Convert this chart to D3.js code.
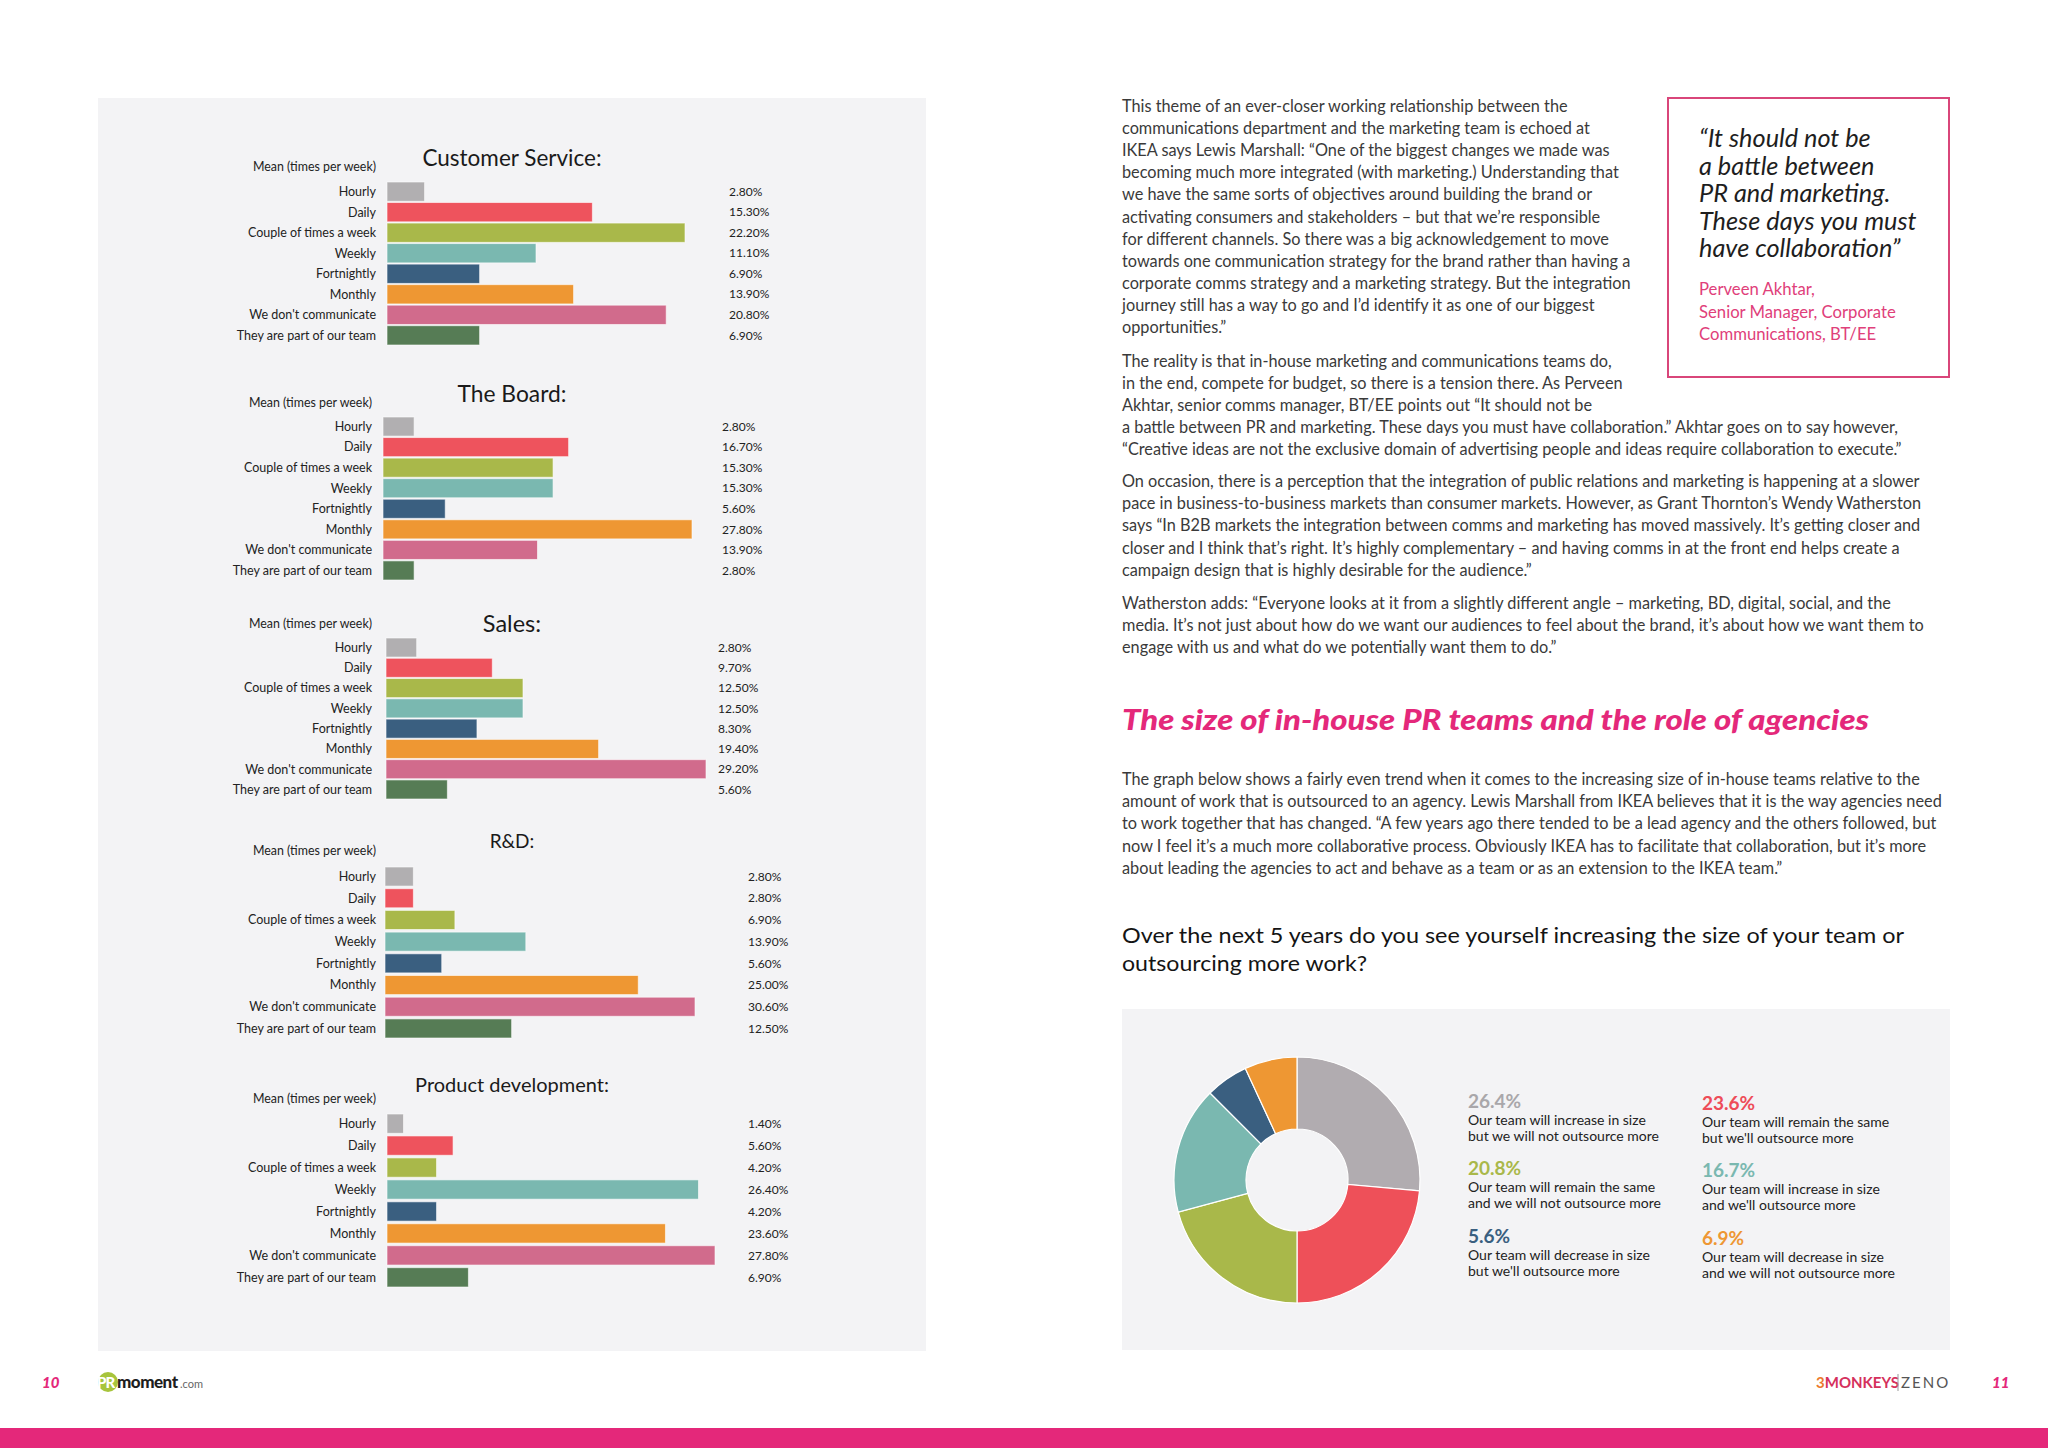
<!DOCTYPE html>
<html><head><meta charset="utf-8">
<script src="https://cdn.jsdelivr.net/npm/d3@7"></script>
<style>
html,body{margin:0;padding:0;background:#fff;}
svg{display:block;}
text{font-family:Lato,'Open Sans',sans-serif;}
</style></head><body>
<svg id="page" width="2048" height="1448"></svg>
<script>
// ---------- DATA ----------
const categories = ["Hourly","Daily","Couple of times a week","Weekly","Fortnightly","Monthly","We don't communicate","They are part of our team"];
const chartTitles = ["Customer Service:","The Board:","Sales:","R&D:","Product development:"];
const customerService = [2.8,15.3,22.2,11.1,6.9,13.9,20.8,6.9];
const theBoard = [2.8,16.7,15.3,15.3,5.6,27.8,13.9,2.8];
const sales = [2.8,9.7,12.5,12.5,8.3,19.4,29.2,5.6];
const rAndD = [2.8,2.8,6.9,13.9,5.6,25.0,30.6,12.5];
const productDevelopment = [1.4,5.6,4.2,26.4,4.2,23.6,27.8,6.9];
const seriesList = [customerService, theBoard, sales, rAndD, productDevelopment];
const barColors = ["#b1afb1","#ee535d","#a9b84a","#7ab8b0","#3a5f80","#ee9733","#d16b8c","#567c55"];

const pieLabels = [
 ["Our team will increase in size","but we will not outsource more"],
 ["Our team will remain the same","but we'll outsource more"],
 ["Our team will remain the same","and we will not outsource more"],
 ["Our team will increase in size","and we'll outsource more"],
 ["Our team will decrease in size","but we'll outsource more"],
 ["Our team will decrease in size","and we will not outsource more"]
];
const pieValues = [26.4,23.6,20.8,16.7,5.6,6.9];
const pieColors = ["#b1acb0","#ee5059","#a9b84a","#7ab8b0","#3a5f80","#ee9733"];
const pieTextColors = ["#a9a7aa","#ee4c58","#a9b84a","#7ab8b0","#3a5f80","#ee9733"];

// ---------- LAYOUT ----------
const svg = d3.select("#page");
const PINK = "#e4287a";
svg.append("rect").attr("x",0).attr("y",0).attr("width",2048).attr("height",1448).attr("fill","#fff");
svg.append("rect").attr("x",98).attr("y",98).attr("width",828).attr("height",1253).attr("fill","#f3f3f5");

const layouts = [
 {titleY:166, titleSize:22.5, meanY:171, labelRight:376, barX:387, top:182, bottom:345, pad:0.06, maxLen:298, valueX:729},
 {titleY:402, titleSize:22.8, meanY:407, labelRight:372, barX:383, top:417, bottom:580, pad:0.07, maxLen:309, valueX:722},
 {titleY:632, titleSize:23.5, meanY:628, labelRight:372, barX:386, top:638, bottom:799, pad:0.06, maxLen:320, valueX:718},
 {titleY:848, titleSize:19, meanY:855, labelRight:376, barX:385, top:867, bottom:1038, pad:0.12, maxLen:310, valueX:748},
 {titleY:1092, titleSize:20, meanY:1103, labelRight:376, barX:387, top:1114, bottom:1287, pad:0.12, maxLen:328, valueX:748}
];
const fmt = d => d3.format(".2f")(d) + "%";

seriesList.forEach((vals, ci) => {
  const L = layouts[ci];
  const g = svg.append("g");
  const x = d3.scaleLinear().domain([0, d3.max(vals)]).range([0, L.maxLen]);
  const y = d3.scaleBand().domain(categories).range([L.top, L.bottom]).paddingInner(L.pad).paddingOuter(0);
  g.append("text").attr("x",512).attr("y",L.titleY).attr("text-anchor","middle")
    .attr("font-size",L.titleSize).attr("fill","#1a1a1a").text(chartTitles[ci]);
  g.append("text").attr("x",L.labelRight).attr("y",L.meanY).attr("text-anchor","end")
    .attr("font-size",12.4).attr("fill","#222").text("Mean (times per week)");
  g.selectAll("rect.bar").data(vals).join("rect").attr("class","bar")
    .attr("x",L.barX).attr("y",(d,i)=>y(categories[i]))
    .attr("width",d=>x(d)).attr("height",y.bandwidth())
    .attr("fill",(d,i)=>barColors[i]).attr("stroke","#ffffff").attr("stroke-opacity",0.6).attr("stroke-width",1);
  g.selectAll("text.cat").data(categories).join("text").attr("class","cat")
    .attr("x",L.labelRight).attr("y",d=>y(d)+y.bandwidth()/2).attr("dy","0.35em")
    .attr("text-anchor","end").attr("font-size",12.5).attr("fill","#222").text(d=>d);
  g.selectAll("text.val").data(vals).join("text").attr("class","val")
    .attr("x",L.valueX).attr("y",(d,i)=>y(categories[i])+y.bandwidth()/2).attr("dy","0.35em")
    .attr("font-size",12).attr("fill","#222").text(d=>fmt(d));
});

// ---------- RIGHT PAGE TEXT ----------
const bodyColor = "#3a3a3a";
const BODY = 16.3;
function para(lines, x, y0, lh, size, color, style){
  const t = svg.append("g");
  lines.forEach((s,i)=>{
    const e = t.append("text").attr("x",x).attr("y",y0+i*lh).attr("font-size",size).attr("fill",color).text(s);
    if(style) Object.entries(style).forEach(([k,v])=>e.attr(k,v));
  });
  return t;
}
para([
 "This theme of an ever-closer working relationship between the",
 "communications department and the marketing team is echoed at",
 "IKEA says Lewis Marshall: \u201COne of the biggest changes we made was",
 "becoming much more integrated (with marketing.) Understanding that",
 "we have the same sorts of objectives around building the brand or",
 "activating consumers and stakeholders \u2013 but that we\u2019re responsible",
 "for different channels. So there was a big acknowledgement to move",
 "towards one communication strategy for the brand rather than having a",
 "corporate comms strategy and a marketing strategy. But the integration",
 "journey still has a way to go and I\u2019d identify it as one of our biggest",
 "opportunities.\u201D"
],1122,112,22.1,BODY,bodyColor);
para([
 "The reality is that in-house marketing and communications teams do,",
 "in the end, compete for budget, so there is a tension there. As Perveen",
 "Akhtar, senior comms manager, BT/EE points out \u201CIt should not be",
 "a battle between PR and marketing. These days you must have collaboration.\u201D Akhtar goes on to say however,",
 "\u201CCreative ideas are not the exclusive domain of advertising people and ideas require collaboration to execute.\u201D"
],1122,367,22,BODY,bodyColor);
para([
 "On occasion, there is a perception that the integration of public relations and marketing is happening at a slower",
 "pace in business-to-business markets than consumer markets. However, as Grant Thornton\u2019s Wendy Watherston",
 "says \u201CIn B2B markets the integration between comms and marketing has moved massively. It\u2019s getting closer and",
 "closer and I think that\u2019s right. It\u2019s highly complementary \u2013 and having comms in at the front end helps create a",
 "campaign design that is highly desirable for the audience.\u201D"
],1122,487,22.2,BODY,bodyColor);
para([
 "Watherston adds: \u201CEveryone looks at it from a slightly different angle \u2013 marketing, BD, digital, social, and the",
 "media. It\u2019s not just about how do we want our audiences to feel about the brand, it\u2019s about how we want them to",
 "engage with us and what do we potentially want them to do.\u201D"
],1122,609,22,BODY,bodyColor);

// quote box
svg.append("rect").attr("x",1668).attr("y",98).attr("width",281).attr("height",279)
  .attr("fill","#fff").attr("stroke","#d9467a").attr("stroke-width",2);
para(["\u201CIt should not be","a battle between","PR and marketing.","These days you must","have collaboration\u201D"],
  1699,147,27.5,25.3,"#1e1e1e",{"font-style":"italic"});
para(["Perveen Akhtar,","Senior Manager, Corporate","Communications, BT/EE"],1699,295,22.5,16.7,"#e0407a");

// heading
svg.append("text").attr("x",1122).attr("y",730).attr("font-size",28).attr("font-weight",900)
  .attr("font-style","italic").attr("fill",PINK).attr("textLength",747).attr("lengthAdjust","spacingAndGlyphs")
  .text("The size of in-house PR teams and the role of agencies");
para([
 "The graph below shows a fairly even trend when it comes to the increasing size of in-house teams relative to the",
 "amount of work that is outsourced to an agency. Lewis Marshall from IKEA believes that it is the way agencies need",
 "to work together that has changed. \u201CA few years ago there tended to be a lead agency and the others followed, but",
 "now I feel it\u2019s a much more collaborative process. Obviously IKEA has to facilitate that collaboration, but it\u2019s more",
 "about leading the agencies to act and behave as a team or as an extension to the IKEA team.\u201D"
],1122,785,22.2,BODY,bodyColor);
svg.append("text").attr("x",1122).attr("y",943).attr("font-size",21.5).attr("fill","#141414")
  .attr("textLength",782).attr("lengthAdjust","spacingAndGlyphs")
  .text("Over the next 5 years do you see yourself increasing the size of your team or");
svg.append("text").attr("x",1122).attr("y",971).attr("font-size",21.5).attr("fill","#141414")
  .attr("textLength",245).attr("lengthAdjust","spacingAndGlyphs")
  .text("outsourcing more work?");

// ---------- DONUT ----------
svg.append("rect").attr("x",1122).attr("y",1009).attr("width",828).attr("height",341).attr("fill","#f3f3f5");
const pie = d3.pie().sort(null).value(d=>d)(pieValues);
const arc = d3.arc().innerRadius(51).outerRadius(123);
svg.append("g").attr("transform","translate(1297,1180)")
  .selectAll("path").data(pie).join("path").attr("d",arc)
  .attr("fill",(d,i)=>pieColors[i]).attr("stroke","#fff").attr("stroke-width",1.2);
const legX = [1468,1702], legY = [1108,1175,1243];
pieValues.forEach((v,i)=>{
  const col = i%2, row = Math.floor(i/2);
  const gx = legX[col], gy = legY[row] + col*2;
  svg.append("text").attr("x",gx).attr("y",gy).attr("font-size",19).attr("font-weight",700)
    .attr("fill",pieTextColors[i]).text(d3.format(".1f")(v)+"%");
  pieLabels[i].forEach((s,j)=>{
    svg.append("text").attr("x",gx).attr("y",gy+17+j*16).attr("font-size",14).attr("fill","#222").text(s);
  });
});

// ---------- FOOTER ----------
svg.append("rect").attr("x",0).attr("y",1428).attr("width",2048).attr("height",20).attr("fill",PINK);
svg.append("text").attr("x",42).attr("y",1388).attr("font-size",15).attr("font-weight",900).attr("font-style","italic").attr("fill",PINK).text("10");
svg.append("text").attr("x",1992).attr("y",1388).attr("font-size",15).attr("font-weight",900).attr("font-style","italic").attr("fill",PINK).text("11");
svg.append("circle").attr("cx",108).attr("cy",1382).attr("r",10).attr("fill","#a7c43c");
svg.append("text").attr("x",97).attr("y",1388).attr("font-size",15).attr("font-weight",900).attr("fill","#fff").attr("letter-spacing",-1).text("PR");
svg.append("text").attr("x",117).attr("y",1388).attr("font-size",17).attr("font-weight",900).attr("fill","#1e1e1e").attr("letter-spacing",-0.5).text("moment");
svg.append("text").attr("x",180).attr("y",1388).attr("font-size",11).attr("fill","#666").text(".com");
const mk = svg.append("text").attr("x",1816).attr("y",1388).attr("font-size",15).attr("font-weight",700);
mk.append("tspan").attr("fill","#ec7a2e").text("3");
mk.append("tspan").attr("fill","#d5305c").text("MONKEYS");
svg.append("line").attr("x1",1898).attr("x2",1898).attr("y1",1374).attr("y2",1391).attr("stroke","#999").attr("stroke-width",1);
svg.append("text").attr("x",1901).attr("y",1388).attr("font-size",15).attr("letter-spacing",2).attr("fill","#555").text("ZENO");
</script>
</body></html>
